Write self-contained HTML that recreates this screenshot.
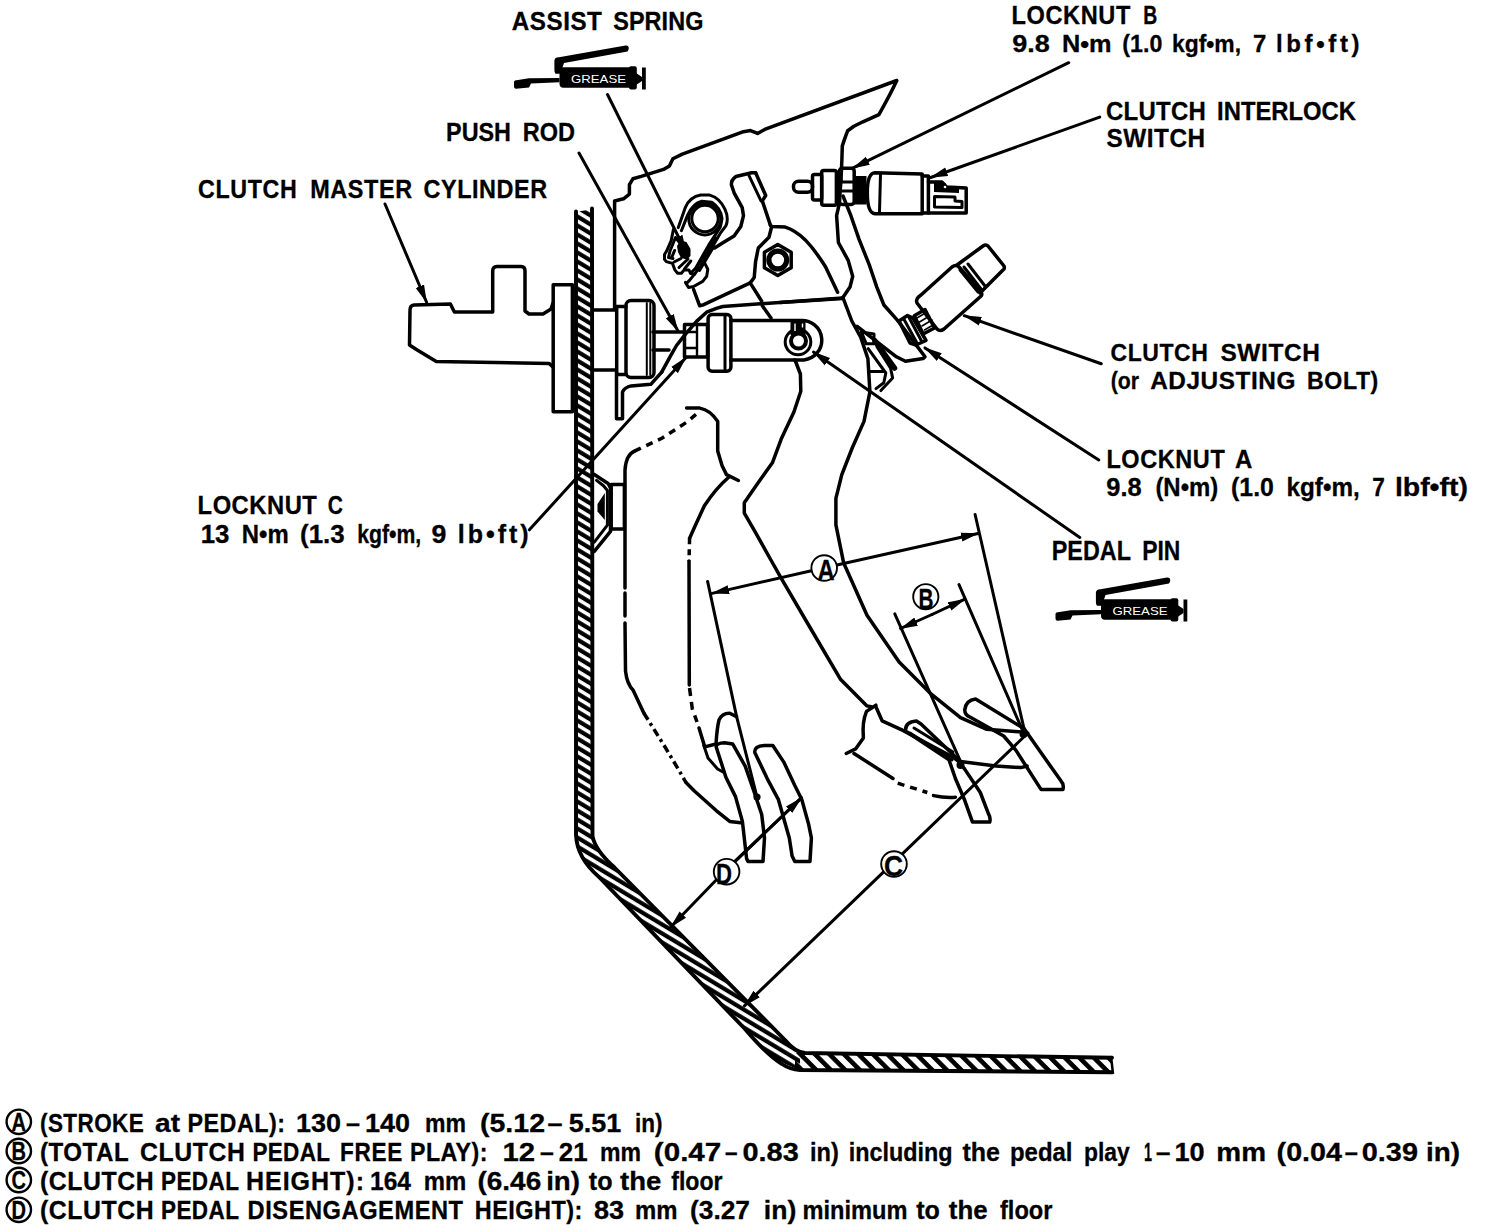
<!DOCTYPE html>
<html><head><meta charset="utf-8"><style>
html,body{margin:0;padding:0;background:#fff;}
body{width:1488px;height:1232px;overflow:hidden;}
svg{display:block;}
text{font-family:"Liberation Sans",sans-serif;font-weight:bold;fill:#000;}
.s{fill:none;stroke:#000;stroke-width:3.5;stroke-linejoin:round;stroke-linecap:round;}
.t{fill:none;stroke:#000;stroke-width:3.0;stroke-linejoin:round;stroke-linecap:round;}
.k{fill:none;stroke:#000;stroke-width:3.9;stroke-linejoin:round;stroke-linecap:round;}
.dd{fill:none;stroke:#000;stroke-width:3.5;stroke-dasharray:9 5 3 5;}
.ds{fill:none;stroke:#000;stroke-width:3.5;stroke-dasharray:7 6;}
.f{fill:#000;stroke:none;}
</style></head><body>
<svg width="1488" height="1232" viewBox="0 0 1488 1232">
<defs>
<marker id="ar" viewBox="0 0 18 10" refX="17" refY="5" markerWidth="18" markerHeight="10" markerUnits="userSpaceOnUse" orient="auto">
<path d="M0,0.5 L18,5 L0,9.5 Z" fill="#000"/>
</marker>
<marker id="as" viewBox="0 0 12 8" refX="11" refY="4" markerWidth="10" markerHeight="7" markerUnits="userSpaceOnUse" orient="auto-start-reverse">
<path d="M0,1 L12,4 L0,7 Z" fill="#000"/>
</marker>
<pattern id="hv" patternUnits="userSpaceOnUse" width="20" height="9" patternTransform="skewY(31)">
<rect x="0" y="2.2" width="20" height="4.9" fill="#000"/>
</pattern>
<pattern id="hf" patternUnits="userSpaceOnUse" width="14.5" height="20" patternTransform="skewX(45)">
<rect x="4" y="0" width="6.5" height="20" fill="#000"/>
</pattern>
<g id="gun">
<path class="f" d="M554.4,60.5 Q555,57 559,57.2 L625.5,45.6 Q629.5,45.4 628.6,49.5 L627.5,51.6 L564,63 L562.5,67.5 L561,73.8 L555.5,73.8 Q554.4,73 554.4,70 Z"/>
<rect class="f" x="559.5" y="67.3" width="76" height="20.5" rx="4"/>
<rect class="f" x="629" y="66.3" width="7.8" height="23.3" rx="2"/>
<rect class="f" x="642" y="67.5" width="3.8" height="22"/>
<path class="f" d="M636,73 L642,77 L642,81 L636,85 Z"/>
<path class="f" d="M514,82 Q514,80 518,80 L529,78.3 L559.5,78 L559.5,82.2 L531,83.5 L529,87.5 L516,88.8 Q514,88.8 514,86 Z"/>
<text x="571" y="82.5" font-size="10.5" textLength="55" lengthAdjust="spacingAndGlyphs" style="fill:#fff;font-weight:normal;stroke:none">GREASE</text>
</g>
</defs>
<g id="txt" style="stroke:#000;stroke-width:0.3;">
<text transform="scale(0.932,1)" x="549.04" y="30.3" font-size="26.0" textLength="96.81" lengthAdjust="spacing">ASSIST</text>
<text transform="scale(0.900,1)" x="681.33" y="30.3" font-size="26.0" textLength="100.20" lengthAdjust="spacing">SPRING</text>
<text transform="scale(0.906,1)" x="1116.54" y="24.0" font-size="26.0" textLength="131.03" lengthAdjust="spacing">LOCKNUT</text>
<text x="1143.2" y="24.0" font-size="26.0" textLength="14.0" lengthAdjust="spacingAndGlyphs">B</text>
<text x="1012.3" y="51.8" font-size="24.0" textLength="37.5" lengthAdjust="spacingAndGlyphs">9.8</text>
<text x="1061.9" y="51.8" font-size="24.0" textLength="49.6" lengthAdjust="spacingAndGlyphs">N•m</text>
<text x="1122.3" y="51.8" font-size="24.0" textLength="40.0" lengthAdjust="spacingAndGlyphs">(1.0</text>
<text x="1172.0" y="51.8" font-size="24.0" textLength="69.0" lengthAdjust="spacingAndGlyphs">kgf•m,</text>
<text x="1253.0" y="51.8" font-size="24.0" textLength="13.3" lengthAdjust="spacingAndGlyphs">7</text>
<text transform="scale(1.000,1)" x="1276.00" y="51.8" font-size="24.0" textLength="83.52" lengthAdjust="spacing">lbf•ft)</text>
<text transform="scale(0.900,1)" x="1229.00" y="119.6" font-size="26.6" textLength="110.68" lengthAdjust="spacing">CLUTCH</text>
<text x="1217.1" y="119.6" font-size="26.6" textLength="138.9" lengthAdjust="spacingAndGlyphs">INTERLOCK</text>
<text transform="scale(0.952,1)" x="1162.23" y="147.5" font-size="25.5" textLength="103.68" lengthAdjust="spacing">SWITCH</text>
<text x="446.1" y="140.5" font-size="26.4" textLength="64.9" lengthAdjust="spacingAndGlyphs">PUSH</text>
<text x="522.8" y="140.5" font-size="26.4" textLength="52.3" lengthAdjust="spacingAndGlyphs">ROD</text>
<text transform="scale(0.913,1)" x="216.97" y="197.8" font-size="25.5" textLength="108.06" lengthAdjust="spacing">CLUTCH</text>
<text transform="scale(0.919,1)" x="337.49" y="197.8" font-size="25.5" textLength="111.00" lengthAdjust="spacing">MASTER</text>
<text transform="scale(0.919,1)" x="460.92" y="197.8" font-size="25.5" textLength="134.37" lengthAdjust="spacing">CYLINDER</text>
<text transform="scale(0.939,1)" x="1182.57" y="360.6" font-size="24.5" textLength="103.82" lengthAdjust="spacing">CLUTCH</text>
<text transform="scale(0.998,1)" x="1222.87" y="360.6" font-size="24.5" textLength="99.61" lengthAdjust="spacing">SWITCH</text>
<text x="1110.7" y="389.0" font-size="24.5" textLength="28.3" lengthAdjust="spacingAndGlyphs">(or</text>
<text transform="scale(0.995,1)" x="1155.95" y="389.0" font-size="24.5" textLength="145.95" lengthAdjust="spacing">ADJUSTING</text>
<text transform="scale(0.945,1)" x="1383.20" y="389.0" font-size="24.5" textLength="75.28" lengthAdjust="spacing">BOLT)</text>
<text transform="scale(0.910,1)" x="1215.87" y="467.6" font-size="25.8" textLength="130.02" lengthAdjust="spacing">LOCKNUT</text>
<text x="1235.0" y="467.6" font-size="25.8" textLength="17.3" lengthAdjust="spacingAndGlyphs">A</text>
<text x="1106.3" y="496.3" font-size="25.5" textLength="35.3" lengthAdjust="spacingAndGlyphs">9.8</text>
<text x="1155.4" y="496.3" font-size="25.5" textLength="62.9" lengthAdjust="spacingAndGlyphs">(N•m)</text>
<text x="1231.0" y="496.3" font-size="25.5" textLength="42.9" lengthAdjust="spacingAndGlyphs">(1.0</text>
<text x="1286.5" y="496.3" font-size="25.5" textLength="73.2" lengthAdjust="spacingAndGlyphs">kgf•m,</text>
<text x="1372.2" y="496.3" font-size="25.5" textLength="12.6" lengthAdjust="spacingAndGlyphs">7</text>
<text x="1394.9" y="496.3" font-size="25.5" textLength="73.1" lengthAdjust="spacingAndGlyphs">lbf•ft)</text>
<text transform="scale(0.900,1)" x="219.56" y="514.0" font-size="26.4" textLength="132.51" lengthAdjust="spacing">LOCKNUT</text>
<text x="327.8" y="514.0" font-size="26.4" textLength="15.1" lengthAdjust="spacingAndGlyphs">C</text>
<text x="200.7" y="543.0" font-size="25.0" textLength="28.7" lengthAdjust="spacingAndGlyphs">13</text>
<text x="241.8" y="543.0" font-size="25.0" textLength="46.9" lengthAdjust="spacingAndGlyphs">N•m</text>
<text x="300.1" y="543.0" font-size="25.0" textLength="44.6" lengthAdjust="spacingAndGlyphs">(1.3</text>
<text x="357.2" y="543.0" font-size="25.0" textLength="64.0" lengthAdjust="spacingAndGlyphs">kgf•m,</text>
<text x="431.5" y="543.0" font-size="25.0" textLength="14.9" lengthAdjust="spacingAndGlyphs">9</text>
<text transform="scale(1.000,1)" x="457.80" y="543.0" font-size="25.0" textLength="70.75" lengthAdjust="spacing">lb•ft)</text>
<text x="1051.8" y="559.9" font-size="27.0" textLength="79.1" lengthAdjust="spacingAndGlyphs">PEDAL</text>
<text x="1142.2" y="559.9" font-size="27.0" textLength="38.1" lengthAdjust="spacingAndGlyphs">PIN</text>
<text transform="scale(0.900,1)" x="44.44" y="1131.6" font-size="25.0" textLength="115.28" lengthAdjust="spacing">(STROKE</text>
<text x="155.0" y="1131.6" font-size="25.0" textLength="25.0" lengthAdjust="spacingAndGlyphs">at</text>
<text transform="scale(0.933,1)" x="200.98" y="1131.6" font-size="25.0" textLength="104.52" lengthAdjust="spacing">PEDAL):</text>
<text x="296.0" y="1131.6" font-size="25.0" textLength="45.0" lengthAdjust="spacingAndGlyphs">130</text>
<text x="346.0" y="1131.6" font-size="25.0" textLength="14.0" lengthAdjust="spacingAndGlyphs">–</text>
<text x="365.0" y="1131.6" font-size="25.0" textLength="45.0" lengthAdjust="spacingAndGlyphs">140</text>
<text x="425.0" y="1131.6" font-size="25.0" textLength="41.0" lengthAdjust="spacingAndGlyphs">mm</text>
<text x="480.0" y="1131.6" font-size="25.0" textLength="65.0" lengthAdjust="spacingAndGlyphs">(5.12</text>
<text x="547.5" y="1131.6" font-size="25.0" textLength="15.0" lengthAdjust="spacingAndGlyphs">–</text>
<text x="568.8" y="1131.6" font-size="25.0" textLength="52.5" lengthAdjust="spacingAndGlyphs">5.51</text>
<text x="635.0" y="1131.6" font-size="25.0" textLength="27.5" lengthAdjust="spacingAndGlyphs">in)</text>
<text transform="scale(0.963,1)" x="41.53" y="1160.6" font-size="25.0" textLength="92.10" lengthAdjust="spacing">(TOTAL</text>
<text transform="scale(0.991,1)" x="141.24" y="1160.6" font-size="25.0" textLength="105.94" lengthAdjust="spacing">CLUTCH</text>
<text transform="scale(0.900,1)" x="280.56" y="1160.6" font-size="25.0" textLength="86.09" lengthAdjust="spacing">PEDAL</text>
<text transform="scale(0.903,1)" x="376.66" y="1160.6" font-size="25.0" textLength="68.74" lengthAdjust="spacing">FREE</text>
<text transform="scale(0.928,1)" x="441.77" y="1160.6" font-size="25.0" textLength="83.54" lengthAdjust="spacing">PLAY):</text>
<text x="502.5" y="1160.6" font-size="25.0" textLength="32.6" lengthAdjust="spacingAndGlyphs">12</text>
<text x="540.0" y="1160.6" font-size="25.0" textLength="13.8" lengthAdjust="spacingAndGlyphs">–</text>
<text x="558.8" y="1160.6" font-size="25.0" textLength="28.8" lengthAdjust="spacingAndGlyphs">21</text>
<text x="600.0" y="1160.6" font-size="25.0" textLength="41.0" lengthAdjust="spacingAndGlyphs">mm</text>
<text x="653.8" y="1160.6" font-size="25.0" textLength="67.5" lengthAdjust="spacingAndGlyphs">(0.47</text>
<text x="725.0" y="1160.6" font-size="25.0" textLength="12.5" lengthAdjust="spacingAndGlyphs">–</text>
<text x="742.5" y="1160.6" font-size="25.0" textLength="56.3" lengthAdjust="spacingAndGlyphs">0.83</text>
<text x="810.0" y="1160.6" font-size="25.0" textLength="28.8" lengthAdjust="spacingAndGlyphs">in)</text>
<text x="848.8" y="1160.6" font-size="25.0" textLength="103.7" lengthAdjust="spacingAndGlyphs">including</text>
<text x="962.5" y="1160.6" font-size="25.0" textLength="37.5" lengthAdjust="spacingAndGlyphs">the</text>
<text x="1010.0" y="1160.6" font-size="25.0" textLength="62.5" lengthAdjust="spacingAndGlyphs">pedal</text>
<text x="1084.0" y="1160.6" font-size="25.0" textLength="45.8" lengthAdjust="spacingAndGlyphs">play</text>
<text x="1144.0" y="1160.6" font-size="25.0" textLength="8.0" lengthAdjust="spacingAndGlyphs">1</text>
<text x="1156.0" y="1160.6" font-size="25.0" textLength="14.4" lengthAdjust="spacingAndGlyphs">–</text>
<text x="1174.4" y="1160.6" font-size="25.0" textLength="30.2" lengthAdjust="spacingAndGlyphs">10</text>
<text x="1216.3" y="1160.6" font-size="25.0" textLength="49.7" lengthAdjust="spacingAndGlyphs">mm</text>
<text x="1276.6" y="1160.6" font-size="25.0" textLength="65.4" lengthAdjust="spacingAndGlyphs">(0.04</text>
<text x="1344.7" y="1160.6" font-size="25.0" textLength="13.1" lengthAdjust="spacingAndGlyphs">–</text>
<text x="1361.8" y="1160.6" font-size="25.0" textLength="56.2" lengthAdjust="spacingAndGlyphs">0.39</text>
<text x="1426.0" y="1160.6" font-size="25.0" textLength="34.0" lengthAdjust="spacingAndGlyphs">in)</text>
<text transform="scale(0.993,1)" x="40.29" y="1189.8" font-size="25.0" textLength="114.52" lengthAdjust="spacing">(CLUTCH</text>
<text transform="scale(0.900,1)" x="178.89" y="1189.8" font-size="25.0" textLength="86.65" lengthAdjust="spacing">PEDAL</text>
<text transform="scale(1.000,1)" x="246.00" y="1189.8" font-size="25.0" textLength="117.97" lengthAdjust="spacing">HEIGHT):</text>
<text x="370.0" y="1189.8" font-size="25.0" textLength="41.0" lengthAdjust="spacingAndGlyphs">164</text>
<text x="423.8" y="1189.8" font-size="25.0" textLength="42.5" lengthAdjust="spacingAndGlyphs">mm</text>
<text x="477.5" y="1189.8" font-size="25.0" textLength="63.7" lengthAdjust="spacingAndGlyphs">(6.46</text>
<text x="546.2" y="1189.8" font-size="25.0" textLength="33.8" lengthAdjust="spacingAndGlyphs">in)</text>
<text x="588.8" y="1189.8" font-size="25.0" textLength="23.7" lengthAdjust="spacingAndGlyphs">to</text>
<text x="620.0" y="1189.8" font-size="25.0" textLength="41.3" lengthAdjust="spacingAndGlyphs">the</text>
<text x="671.2" y="1189.8" font-size="25.0" textLength="51.3" lengthAdjust="spacingAndGlyphs">floor</text>
<text transform="scale(0.993,1)" x="40.29" y="1219.2" font-size="25.0" textLength="114.52" lengthAdjust="spacing">(CLUTCH</text>
<text transform="scale(0.900,1)" x="178.89" y="1219.2" font-size="25.0" textLength="86.65" lengthAdjust="spacing">PEDAL</text>
<text transform="scale(0.946,1)" x="261.76" y="1219.2" font-size="25.0" textLength="227.69" lengthAdjust="spacing">DISENGAGEMENT</text>
<text transform="scale(0.938,1)" x="506.20" y="1219.2" font-size="25.0" textLength="114.54" lengthAdjust="spacing">HEIGHT):</text>
<text x="594.0" y="1219.2" font-size="25.0" textLength="30.1" lengthAdjust="spacingAndGlyphs">83</text>
<text x="635.0" y="1219.2" font-size="25.0" textLength="42.5" lengthAdjust="spacingAndGlyphs">mm</text>
<text x="690.0" y="1219.2" font-size="25.0" textLength="60.0" lengthAdjust="spacingAndGlyphs">(3.27</text>
<text x="763.8" y="1219.2" font-size="25.0" textLength="32.5" lengthAdjust="spacingAndGlyphs">in)</text>
<text x="802.5" y="1219.2" font-size="25.0" textLength="105.0" lengthAdjust="spacingAndGlyphs">minimum</text>
<text x="916.2" y="1219.2" font-size="25.0" textLength="23.7" lengthAdjust="spacingAndGlyphs">to</text>
<text x="948.8" y="1219.2" font-size="25.0" textLength="38.8" lengthAdjust="spacingAndGlyphs">the</text>
<text x="1000.0" y="1219.2" font-size="25.0" textLength="52.5" lengthAdjust="spacingAndGlyphs">floor</text>
<circle cx="18.8" cy="1121.8" r="12.2" fill="none" stroke="#000" stroke-width="2.4"/>
<text x="11.5" y="1131.1" font-size="26.0" textLength="14.5" lengthAdjust="spacingAndGlyphs">A</text>
<circle cx="18.8" cy="1151.0" r="12.2" fill="none" stroke="#000" stroke-width="2.4"/>
<text x="11.5" y="1160.3" font-size="26.0" textLength="14.5" lengthAdjust="spacingAndGlyphs">B</text>
<circle cx="18.8" cy="1180.0" r="12.2" fill="none" stroke="#000" stroke-width="2.4"/>
<text x="11.5" y="1189.3" font-size="26.0" textLength="14.5" lengthAdjust="spacingAndGlyphs">C</text>
<circle cx="18.8" cy="1209.8" r="12.2" fill="none" stroke="#000" stroke-width="2.4"/>
<text x="11.5" y="1219.1" font-size="26.0" textLength="14.5" lengthAdjust="spacingAndGlyphs">D</text>
</g>
<!-- grease guns -->
<use href="#gun"/>
<use href="#gun" transform="translate(541.5,532)"/>

<!-- ===== FIREWALL / FLOOR ===== -->
<path d="M576,212 L576,835 Q578,860 599,877 L745,1029 Q765,1052 780,1062 L800,1070 L800,1053 L785,1040 L614.5,867.5 Q595,848 593.5,836 L592.5,209 Z" fill="url(#hv)" stroke="none"/>
<path d="M795,1053 L1111.5,1057.8 L1111.5,1072.5 L795,1070 Z" fill="url(#hf)" stroke="none"/>
<path class="k" d="M576,211.5 L576,835 Q577,858 599,877 L745,1029 Q768,1056 782,1064 Q790,1069.5 800,1070 L1112,1072.2"/>
<path class="k" d="M592,208.5 L592.5,836 Q595,850 614.5,867.5 L785,1040 Q795,1052 805,1053 L1112,1057.8"/>
<path d="M1111,1056 L1113,1074" stroke="#000" stroke-width="2.5"/>
<!-- ===== MASTER CYLINDER ===== -->
<path class="s" d="M553,303 L551,309 L543,314 L529,314 L525,311 L525,271 Q525,266.6 521,266.6 L497,266.6 Q492.7,267 492.7,271 L492.7,312 L454.4,312 L450.4,304 L414,305 Q410,305.5 410,310 L409.5,345 L416,349.3 L436.3,361.4 L549,363.4 L553,367"/>
<rect class="s" x="553.2" y="284.8" width="19.2" height="127"/>
<!-- right of firewall -->
<path class="s" d="M593.5,310 L616.7,310 M593.5,370 L616.7,370 M616.7,306.4 L616.7,374.4"/>
<path class="s" d="M616.7,306.4 L626,306.4 M616.7,374.4 L626,374.4"/>
<rect class="s" x="626" y="300.5" width="28" height="77" rx="5"/>
<path class="t" d="M646.8,303 L646.8,375 M650.3,303 L650.3,375" style="stroke-width:2"/>
<!-- push rod -->
<path class="s" d="M653,332 L685,332 M653,350 L669,350"/>
<rect class="s" x="684.5" y="324.5" width="23" height="32.5"/>
<path class="t" d="M697,326 L697,355 M685,332 L697,332 M685,348 L697,348" style="stroke-width:2.4"/>

<rect class="s" x="708.1" y="314.5" width="22.8" height="56.7" rx="4"/>
<path class="t" d="M725,316 L725,370"/>
<!-- clevis -->
<path class="s" d="M731,320.6 L800,320.6 A19.5,19.5 0 0 1 804,359.9 L731,359.9"/>
<circle class="t" cx="798" cy="342" r="12.8"/>
<circle cx="798.5" cy="341" r="7.5" fill="none" stroke="#000" stroke-width="4"/>
<rect x="790.5" y="321" width="15" height="14" fill="#000"/>
<path d="M795,323.5 L795,331 M802.5,323.5 L802.5,327.5" stroke="#fff" stroke-width="1.4"/>

<!-- ===== BRACKET ===== -->
<path class="s" d="M614.6,307 L614.6,201 L623.5,198.8 L629.4,194.1 L629.4,184.7 L632.9,178.8 L641.2,176.4 L663.5,169.4 L669.4,165.9 L672.9,158.8 L682.3,154.1 L743.5,131.7 L750.5,130.6 L757.6,133.4 L764.7,129.4 L896.8,80.5 Q890,95 878.9,114.6 L862.9,121.8 L853.9,126.3 L847.7,130.7 L845,137.9 L842.3,145.9 L841.9,159.3 L841,180"/>
<!-- line A: bracket left edge down to pedal arm -->
<path class="s" d="M839,205 L836.6,215.7 L838.4,242.5 L848.2,260.4 L852.7,276.4 L850,287.1 L842.9,297.5"/>
<path class="s" d="M841,180 L839,205"/>
<!-- line B -->
<path class="s" d="M843,196 L850.9,215.7 L858.9,238.9 L869.6,265.7 L876.8,287.1 L883.9,305 L898.2,321.1"/>
<!-- horizontal bottom of bracket -->
<path class="s" d="M661.7,372.2 L670,356.8 L676.5,345.5 L685.5,334.1 L696.8,321.1 L706.6,312.2 L717.1,308.1 L722.8,306.5 L842.7,298"/>
<path class="s" d="M762.3,305.7 L771,318"/>
<!-- bracket lower left piece -->
<path class="s" d="M614.6,307 L614.6,309 M616.5,372.5 L616.5,418.7 L622.5,418.7 L622.5,392 Q625,387 631,385.9 L650.8,384.3 L661.7,372.2"/>

<!-- ===== SPRING ===== -->
<path class="t" d="M678.3,227.6 L685.4,207.3 Q690,197 700.7,195.1 L709.8,195.1 Q720,198 725,209.4 Q729,218 726,225.6 L720,233.7 L711.8,247.9 L700.7,266.2 L689.5,280.4 L686.5,283.4"/>
<path class="t" d="M681.4,230.7 L687.5,215.4 Q693,203 701.7,201.2 L711.8,202.2 Q721,208 722,218.5 Q721,225 720,227.6 L708.8,244.9 L695.6,268.2 L690.5,273.3"/>
<circle class="t" cx="704.8" cy="219" r="16"/>
<circle class="t" cx="705" cy="218.5" r="13.2"/>
<path class="t" d="M673.4,229.5 L671.2,240.6 L666.7,250.9 L664.5,254.5 L664.5,259.4 L666.3,261.6 L672.5,263.4 L674.7,269.6 L677.4,273.2 L681.4,273.2 L684.1,270.1 L689,270.1 L690.4,273.2 L694.8,274.1"/>
<path class="t" d="M675.5,237.5 L670,251 L668.5,257.5 L673,258.5 M674.6,250.5 L671.5,258"/>
<path class="f" d="M677,246 L680.5,240.5 L686.5,242 L690.5,249 L690.5,256 L687,259.5 L681,258 L678,252 Z"/>
<path class="t" d="M681,258.5 L674,262 M688,259 L679,267.5 M690.8,261 L684.5,269"/>
<path class="t" d="M716,238 L695.5,269 M713.5,247 L699.5,270.5"/>
<path class="t" d="M704.7,263.1 L707.8,269.2 L706.7,276.3 L702.7,281.4 L693.6,286.5 L688.5,287.5 L685.4,282.4"/>
<path class="s" d="M693.6,289.5 L699.6,305.7 L703.7,304.7 L750.2,282.9"/>
<!-- ===== LEVER ARM ===== -->
<path class="s" d="M755.6,172.7 L751.6,172.7 L736,176.5 Q731,180 731.4,184.8 L734.1,192.8 L742.2,207.6 L743.5,215.7 L740.8,226.5 L734.1,235.9 L723.3,242.6 L714.6,248"/>
<path class="s" d="M755.6,172.7 L765.7,195.5 L762.3,200.9 L770.4,225.1"/>
<path class="t" d="M748.9,175.4 L761,200.9"/>
<path class="s" d="M770.4,225.1 L771.7,226.5 L785.2,227.1 Q795,230 805.3,239.9 Q815,250 825.5,266.8 L837.6,292.3"/>
<path class="s" d="M771.7,226.5 L769,237.2 L758.3,248 L755.6,261.4 L754.2,277.5 L750.2,282.9 L761.6,301"/>
<!-- nut -->
<path class="s" d="M777.8,244.5 L791.2,252.2 L791.2,267.7 L777.8,275.5 L764.4,267.7 L764.4,252.2 Z"/>
<circle class="t" cx="777.8" cy="260" r="10"/>
<circle class="t" cx="777.8" cy="260" r="7.8"/>

<!-- ===== INTERLOCK SWITCH ===== -->
<rect class="s" x="793.5" y="181.2" width="19" height="11" rx="5"/>
<rect class="s" x="812.5" y="174.4" width="9.2" height="25.5" rx="2"/>
<rect class="s" x="821.7" y="170.5" width="14.7" height="34.8" rx="2"/>
<rect class="s" x="839.5" y="168.2" width="14.7" height="36.3" rx="3"/>
<path class="t" d="M840,182 L854,182 M840,191 L854,191"/>
<rect class="f" x="854" y="176" width="12.5" height="28.5"/>
<path class="s" d="M875,172.8 L922.2,174 L922.2,213.8 L875,213.8 Q867.3,213 867.3,193 Q867.3,173 875,172.8 Z"/>
<path class="t" d="M880.5,174 L879.5,212"/>
<path class="s" d="M922.2,176 L928.4,176 L928.4,213 L922.2,213"/>
<path class="s" d="M928.4,182 L942,182 L946,187 L966.2,188 L966.2,213 L928.4,213"/>
<path class="f" d="M934,183 L945,182.5 L948,186.5 L959,188 L959,193 L934,192 Z"/>
<circle cx="945" cy="187" r="1.3" fill="#fff"/>
<path class="t" d="M934.5,196.5 L955,197 L955,201 L962,201.5 L962,207.5 L934.5,207 Z"/>

<!-- ===== BRACKET RIGHT / CLUTCH SWITCH ===== -->
<path class="s" d="M780,302.5 L842.5,298.5"/>
<path class="s" d="M898.2,321.1 L925,356.8 L923.2,358.6 L905.4,361.3 L896.4,356.8 L857.1,326.4"/>
<path d="M875,341 L894.5,368" stroke="#000" stroke-width="5.5" stroke-linecap="round"/>
<path class="t" d="M868.2,348.7 L885.8,373 L883.8,382.8 L876,388.6 M877,346.7 L890.6,368.2 L892.6,377.9 L880.9,390.6 M869,371.5 L884,371.5"/>
<path class="t" d="M861.4,332.1 L874,334 L874,343.8 L866.3,343.8 Z"/>
<!-- switch body -->
<path class="s" d="M921,295 L952,267 Q956,264 959,267 L981,292 Q983,295 980,297 L944,329 Q940,332 937,329 L917,303 Q915,299 921,295 Z"/>
<path class="s" d="M957,265 L983,246 Q986,244 988,246 L1004,266 Q1005,269 1003,270 L980,293"/>
<path class="t" d="M960,270 L978,292 M964,267 L981,289 M968,264 L985,286"/>
<!-- thread -->
<path class="s" d="M914.3,315.7 L925,309.5 L934.5,328 L923.2,334 Z"/>
<path class="t" d="M917,318 L927,312 M919.5,322 L929.5,316 M922,326 L932,320 M924.5,330 L933,325" style="stroke-width:1.6"/>
<path class="s" d="M899,321 L907.5,315.5 L913,318 L926,340.5 L916,345 L910,343 Z"/>
<path class="t" d="M903.5,318.5 L917,343 M908.5,316.5 L921.5,341"/>
<!-- ===== CLEVIS region lines ===== -->
<!-- ===== DEPRESSED PEDAL ===== -->
<path class="s" d="M795,360 L800.4,374 L800.8,391.3 L793.8,412.3 L781.2,439.1 L772.4,462.8 L757.6,483.5 L744.3,502.7 L744.3,513.1 L754.6,530.8 L770.9,560 L782.3,580.2 L811.5,630 L840.7,679.6 L867,705.9 L871.2,706.8"/>
<path class="s" d="M842.9,297.5 L851.8,321 L860.7,337.1 L867.9,358.6 L869.9,391.8 L864,421.4 L852.2,448 L841.8,474.6 L835.9,498.3 L835.9,524.9 L843.6,562.7 L867,615.3 L899.1,662.1 L931.3,694.2 L960.5,717.6 L986.8,729.3 L1024.8,732.2"/>
<!-- notch -->
<path class="s" d="M875.9,705.2 L866.5,711.4 Q862,722 863.4,738 L855.6,748.9 L846.2,753.5"/>
<path class="s" d="M854,753.5 L893,778.5"/>
<path class="ds" d="M897.7,783.2 L927.3,792.5"/>
<path class="s" d="M933.5,795.6 Q945,798 955.4,797.2"/>
<path class="s" d="M875.9,706.8 L882.1,720.8 L902.4,730.2 L952.3,756.7 L958.5,761.3 L995.9,766 L1020.9,767.6 L1027.1,766"/>
<!-- pads depressed -->
<path class="s" d="M975.6,699 Q966,700 964.7,709.9 Q965,715 969,716.5 L1003.7,736 L1016,750.4 L1041,789.4 L1063,789.4 Q1064,784 1061.4,781.6 L1024,728.6 L975.6,699 Z"/>
<path class="s" d="M916.4,721 Q905,722 905.5,731 L949,759.8 L955.4,778.5 L964.7,800.3 L972.5,822.1 L989.7,822.1 Q991,818 988.1,812.8 L980.3,792.5 L964.7,769.1 L955.4,756.7 L921,724 Z"/>
<path class="t" d="M910,733 L952,760 M914,728 L953,752"/>

<!-- ===== RELEASED PEDAL ===== -->
<path class="s" d="M686.6,408.1 L699.9,408.1 Q710.3,410 717.7,421.4 L717.7,451 L722.1,465.7 L726.5,474.6 L738.4,480.5"/>
<path class="s" d="M729,477 Q716.2,487.9 704.4,505.7 L694.6,527 L689.6,538.2"/>
<path class="ds" d="M689.6,538.2 L689,561" style="stroke-dasharray:6 5"/>
<path class="s" d="M689,561 L689.3,685"/>
<path class="ds" d="M689.5,688 L692.3,708.8 L697,722" style="stroke-dasharray:8 6"/>
<path class="s" d="M699,728 L704.8,746.9"/>
<path class="s" d="M625,588 L625,470 Q626,455 634.5,451.2"/>
<path class="ds" d="M634.5,451.2 L662.3,438 L687.1,421.9 L700,411"/>
<path class="s" d="M625,593 L625,616"/>
<path class="s" d="M625,623 L625.5,671 Q627,684 633,690 L643.8,713"/>
<path class="dd" d="M643.8,713 L664.9,746.8 L677.5,767.8 L686,782.6" style="stroke-dasharray:8 4 3 4"/>
<path class="s" d="M686,782.6 L694.4,791 L715.9,810.3 L729.7,821.4 L740.7,822.8"/>
<!-- hook near pads -->
<path class="s" d="M704.8,746.9 L716,744 Q717,728 719,720 Q722,713 729.7,713.2 L736.6,716.6"/>
<path class="t" d="M703.8,745.5 L708,758 L717.6,769 L723,772"/>
<!-- released pads -->
<path class="s" d="M724.5,742.8 Q716,743 716.2,747 L725.9,777.2 L735.5,796.6 L742.4,821.4 L746.6,858.6 L748,861.4 L763,861.4 L764.5,838 L761.7,814.5 L753.4,789.7 L745.2,766.2 L732.8,744.1 Z"/>
<path class="s" d="M764.5,745.5 Q754,746 754.8,752.4 L767.2,778.6 L778.3,799.3 L789.3,838 L792.1,855.9 L794.8,861.4 L810,861.4 L811.4,838 L808.6,824.1 L801.7,799.3 L794.8,785.5 L783.8,762.1 L772.8,745.5 Z"/>
<!-- pedal stop bracket -->
<path class="s" d="M593.9,474.3 L608.1,483.5 L610.5,488 L610.5,531.4 L594.3,551.4"/>
<path class="t" d="M596.6,480.4 L603.5,485.8 L607.4,490.5 L607.4,525.2 L594.3,542.2"/>
<rect class="s" x="611.2" y="484.5" width="13.2" height="44.5"/>
<path class="f" d="M604.8,493 L597.5,504 L597.5,511.5 L604.8,520 Z"/>

<!-- ===== DIMENSIONS ===== -->
<path class="t" d="M823.5,568 L712.1,593.4" marker-end="url(#ar)"/>
<path class="t" d="M823.5,568 L978,533.5" marker-end="url(#ar)"/>
<path class="t" d="M707.6,581.4 L736.6,716.6 L757.2,797.9"/>
<path class="t" d="M975.1,514.5 L1024.8,732.2"/>
<path class="t" d="M932,614.5 L900.6,628.5" marker-end="url(#ar)"/>
<path class="t" d="M932,614.5 L964.9,599.2" marker-end="url(#ar)"/>
<path class="t" d="M894.8,613.8 L960.5,761.4"/>
<path class="t" d="M959,584.6 L1023.3,732.2"/>
<path class="t" d="M1028,733 L893,862.8 L744.4,1005.8" marker-end="url(#ar)"/>
<path class="t" d="M801.4,797.9 L725.6,870.3 L671,926.8" marker-end="url(#ar)"/>
<path class="t" d="M725.6,870.3 L801.4,797.9" marker-end="url(#ar)"/>

<circle cx="757" cy="797" r="3.6" fill="#000"/>
<circle cx="960.5" cy="765" r="4" fill="#000"/>
<circle cx="1023.5" cy="734" r="4" fill="#000"/>
<!-- ===== LEADERS ===== -->
<path class="t" d="M607.5,94.5 L686,252" marker-end="url(#ar)"/>
<path class="t" d="M579,153 L678,331" marker-end="url(#ar)"/>
<path class="t" d="M385,204 L426.5,302" marker-end="url(#ar)"/>
<path class="t" d="M529.4,529.8 L686,357.5" marker-end="url(#ar)"/>
<path class="t" d="M1068.7,62.7 L852.6,168.2" marker-end="url(#ar)"/>
<path class="t" d="M1099.7,117.1 L930.7,177.5" marker-end="url(#ar)"/>
<path class="t" d="M1101.25,363.75 L964.3,315.7" marker-end="url(#ar)"/>
<path class="t" d="M1098.75,460 L925,347.9" marker-end="url(#ar)"/>
<path class="t" d="M1079.8,537.5 L813.5,352" marker-end="url(#ar)"/>

<g style="stroke:#000;stroke-width:0.3"><circle cx="824.2" cy="568.0" r="12.8" fill="#fff" stroke="#000" stroke-width="1.9"/>
<text x="817.5" y="579.5" font-size="30.0" textLength="17.1" lengthAdjust="spacingAndGlyphs">A</text>
<circle cx="925.8" cy="596.7" r="12.6" fill="#fff" stroke="#000" stroke-width="1.9"/>
<text x="918.5" y="608.5" font-size="30.0" textLength="15.0" lengthAdjust="spacingAndGlyphs">B</text>
<circle cx="894.0" cy="864.0" r="12.8" fill="#fff" stroke="#000" stroke-width="1.9"/>
<text x="884.0" y="875.5" font-size="30.0" textLength="19.1" lengthAdjust="spacingAndGlyphs">C</text>
<circle cx="726.6" cy="871.7" r="12.8" fill="#fff" stroke="#000" stroke-width="1.9"/>
<text x="716.0" y="883.5" font-size="30.0" textLength="16.0" lengthAdjust="spacingAndGlyphs">D</text></g>
</svg>
</body></html>
